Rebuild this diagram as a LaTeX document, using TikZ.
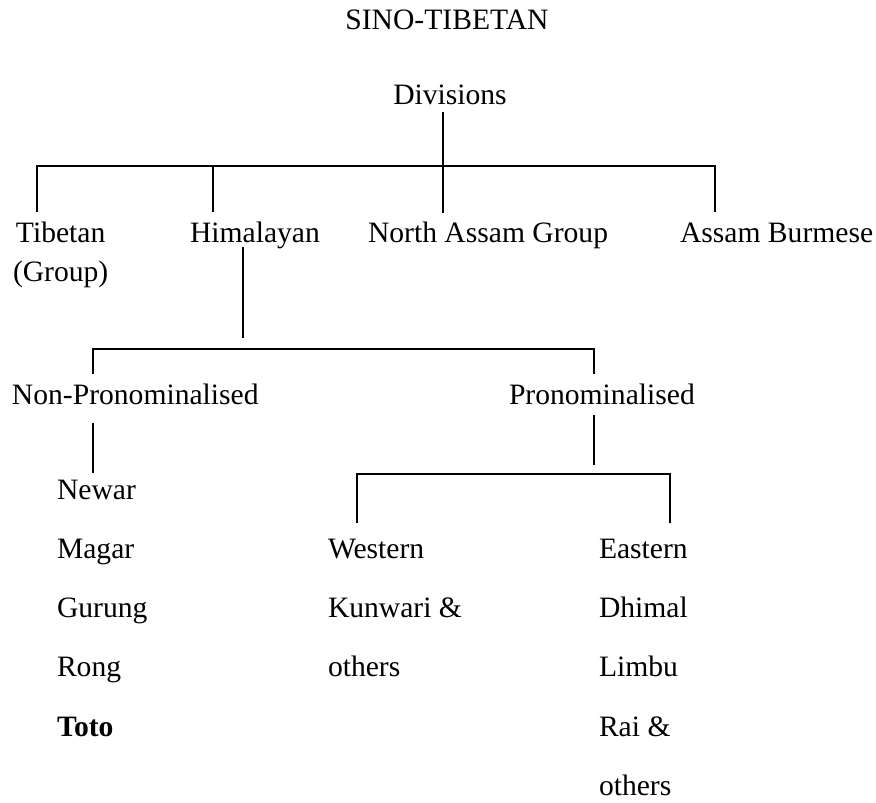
\documentclass[tikz,border=0pt]{standalone}
\usepackage{fontspec}
\setmainfont{Liberation Serif}
\begin{document}
\begin{tikzpicture}[x=1pt,y=-1pt,
  every node/.style={inner sep=0pt,outer sep=0pt,font=\fontsize{29.6}{36}\selectfont},
  lbl/.style={anchor=base west},
  ctr/.style={anchor=base},
  conn/.style={line width=1.3pt}]
\useasboundingbox (0,0) rectangle (876,803);
% texts
\node[ctr] (title) at (447,30) {SINO-TIBETAN};
\node[ctr] (div) at (450,104) {Divisions};
\node[lbl] (tib) at (16,242) {Tibetan};
\node[lbl] (tibg) at (13,281) {(Group)};
\node[lbl] (him) at (190,242) {Himalayan};
\node[lbl] (nag) at (368,242) {North Assam Group};
\node[lbl] (ab) at (680,242) {Assam Burmese};
\node[lbl] (np) at (12,404) {Non-Pronominalised};
\node[lbl] (pr) at (509,404) {Pronominalised};
\node[lbl] (newar) at (57,499) {Newar};
\node[lbl] (magar) at (57,558) {Magar};
\node[lbl] (gurung) at (57,617) {Gurung};
\node[lbl] (rong) at (57,676) {Rong};
\node[lbl] (toto) at (57,736) {\bfseries Toto};
\node[lbl] (west) at (328,558) {Western};
\node[lbl] (kun) at (328,617) {Kunwari \&};
\node[lbl] (woth) at (328,676) {others};
\node[lbl] (east) at (599,558) {Eastern};
\node[lbl] (dhi) at (599,617) {Dhimal};
\node[lbl] (lim) at (599,676) {Limbu};
\node[lbl] (rai) at (599,736) {Rai \&};
\node[lbl] (eoth) at (599,795) {others};
% connector points
\coordinate (divb) at (443,112);
\coordinate (bar1) at (443,166);
\coordinate (b1l) at (37,166);
\coordinate (b1r) at (715,166);
\coordinate (tibt) at (37,212);
\coordinate (himt) at (213,212);
\coordinate (nagt) at (443,213);
\coordinate (abt) at (715,212);
\coordinate (himb) at (243,247);
\coordinate (bar2) at (243,338);
\coordinate (b2l) at (93,349);
\coordinate (b2r) at (594,349);
\coordinate (npt) at (93,374);
\coordinate (prt) at (594,374);
\coordinate (npb) at (93,423);
\coordinate (newt) at (93,473);
\coordinate (prb) at (594,415);
\coordinate (bar3) at (594,465);
\coordinate (b3l) at (357,474);
\coordinate (b3r) at (670,474);
\coordinate (westt) at (357,523);
\coordinate (eastt) at (670,523);
% connectors
\draw[conn] (divb) -- (bar1);
\draw[conn] (tibt) -- (b1l) -- (b1r) -- (abt);
\draw[conn] (himt) -- (himt |- b1l);
\draw[conn] (nagt) -- (bar1);
\draw[conn] (himb) -- (bar2);
\draw[conn] (npt) -- (b2l) -- (b2r) -- (prt);
\draw[conn] (npb) -- (newt);
\draw[conn] (prb) -- (bar3);
\draw[conn] (westt) -- (b3l) -- (b3r) -- (eastt);
\end{tikzpicture}
\end{document}
